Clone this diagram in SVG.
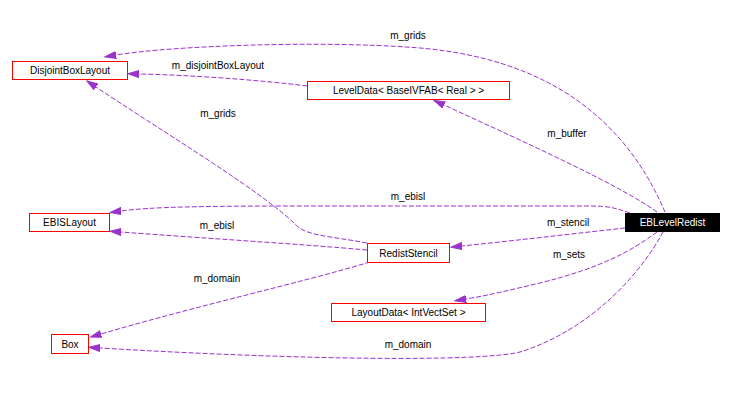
<svg xmlns="http://www.w3.org/2000/svg" width="733" height="400" viewBox="0 0 733 400">
<style>
.n rect{fill:#fff;stroke:#ff0000;stroke-width:1}
.n text,.lbl{font-family:"Liberation Sans",Arial,sans-serif;font-size:10px;fill:#000;text-anchor:middle}
#EBLevelRedist rect{fill:#000;stroke:#000}
#EBLevelRedist text{fill:#fff}
.e{fill:none;stroke:#9a32cd;stroke-width:1;stroke-dasharray:5,2}
</style>
<defs>
<marker id="ah" markerUnits="userSpaceOnUse" markerWidth="12" markerHeight="9" refX="0" refY="4.5" orient="auto">
<path d="M0,1 L11,4.5 L0,8 Z" fill="#9a32cd" stroke="#9a32cd" stroke-width="1"/>
</marker>
</defs>
<rect width="733" height="400" fill="#fff"/>
<g id="edges">
<path class="e" marker-end="url(#ah)" d="M665,212 C630,130 560,60 420,48 C320,40 170,46 116,55"/>
<text class="lbl" x="408" y="39">m_grids</text>
<path class="e" marker-end="url(#ah)" d="M657,212 C620,185 520,140 444,105"/>
<text class="lbl" x="567" y="137">m_buffer</text>
<path class="e" marker-end="url(#ah)" d="M307,86 C260,80 190,75 139,74"/>
<text class="lbl" x="218" y="69">m_disjointBoxLayout</text>
<path class="e" marker-end="url(#ah)" d="M367,243 C330,236 305,236 295,224 C260,190 160,130 96,87"/>
<text class="lbl" x="218" y="117">m_grids</text>
<path class="e" marker-end="url(#ah)" d="M630,213 C615,208 610,206 590,206 L300,206 C200,206 150,207 121,211"/>
<text class="lbl" x="408" y="200">m_ebisl</text>
<path class="e" marker-end="url(#ah)" d="M367,250 C300,244 200,238 121,232"/>
<text class="lbl" x="217" y="229">m_ebisl</text>
<path class="e" marker-end="url(#ah)" d="M625,228 C580,233 520,240 462,246"/>
<text class="lbl" x="568" y="226">m_stencil</text>
<path class="e" marker-end="url(#ah)" d="M657,232 C630,252 600,268 540,283 C510,290 490,295 466,299"/>
<text class="lbl" x="569" y="258">m_sets</text>
<path class="e" marker-end="url(#ah)" d="M370,262 C300,283 200,305 101,334"/>
<text class="lbl" x="217" y="282">m_domain</text>
<path class="e" marker-end="url(#ah)" d="M663,232 C640,275 590,330 520,352 C480,362 300,360 100,348"/>
<text class="lbl" x="408" y="348">m_domain</text>
</g>
<g id="DisjointBoxLayout" class="n"><rect x="12.5" y="61.5" width="115" height="18"/><text x="70" y="74">DisjointBoxLayout</text></g>
<g id="LevelData" class="n"><rect x="307.5" y="81.5" width="202" height="18"/><text x="408.5" y="94">LevelData&lt; BaseIVFAB&lt; Real &gt; &gt;</text></g>
<g id="EBISLayout" class="n"><rect x="29.5" y="213.5" width="80" height="18"/><text x="69.5" y="226">EBISLayout</text></g>
<g id="RedistStencil" class="n"><rect x="367.5" y="243.5" width="82" height="19"/><text x="408.5" y="256.5">RedistStencil</text></g>
<g id="EBLevelRedist" class="n"><rect x="625.5" y="213.5" width="94" height="18"/><text x="672.5" y="226">EBLevelRedist</text></g>
<g id="LayoutData" class="n"><rect x="331.5" y="303.5" width="154" height="18"/><text x="408.5" y="316">LayoutData&lt; IntVectSet &gt;</text></g>
<g id="Box" class="n"><rect x="51.5" y="334.5" width="37" height="19"/><text x="70" y="347.5">Box</text></g>
</svg>
